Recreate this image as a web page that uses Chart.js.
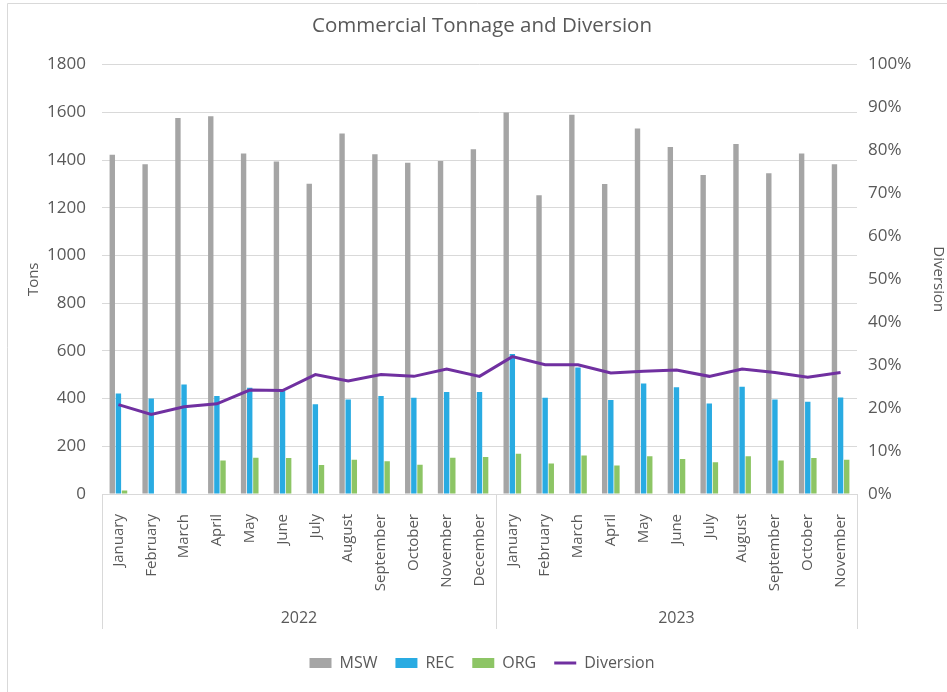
<!DOCTYPE html>
<html>
<head>
<meta charset="utf-8">
<script src="https://cdn.jsdelivr.net/npm/chart.js@4"></script>
<style>
  html, body { margin: 0; padding: 0; background: #fff; }
  #wrap { width: 947px; height: 692px; }
</style>
</head>
<body>
<div id="wrap"><canvas id="chart" width="947" height="692"></canvas></div>
<script>
const months = ['January', 'February', 'March', 'April', 'May', 'June', 'July', 'August',
  'September', 'October', 'November', 'December',
  'January', 'February', 'March', 'April', 'May', 'June', 'July', 'August',
  'September', 'October', 'November'];
const years = ['2022', '2023'];
const yearSizes = [12, 11];

const msw = [1422, 1382, 1576, 1583, 1427, 1394, 1301, 1511, 1424, 1389, 1396, 1445,
  1599, 1252, 1590, 1299, 1532, 1455, 1337, 1467, 1345, 1427, 1382];
const rec = [421, 400, 459, 411, 445, 433, 376, 396, 411, 403, 428, 428,
  587, 403, 530, 394, 463, 447, 379, 450, 396, 387, 404];
const org = [15, 0, 0, 140, 152, 151, 122, 144, 137, 123, 152, 155,
  169, 128, 161, 119, 158, 147, 133, 158, 140, 151, 144];
const diversion = [20.8, 18.5, 20.3, 21.0, 24.2, 24.1, 27.8, 26.3, 27.8, 27.4, 29.1, 27.4,
  32.0, 30.1, 30.1, 28.2, 28.6, 28.9, 27.4, 29.1, 28.3, 27.2, 28.3];

const FONT = "'Open Sans', sans-serif";
const TEXT = '#595959';
const GRID = '#D9D9D9';

// draws the year row of the two-level category axis
const yearGroups = {
  id: 'yearGroups',
  afterDraw(chart) {
    const x = chart.scales.x;
    const ctx = chart.ctx;
    const half = (x.getPixelForValue(1) - x.getPixelForValue(0)) / 2;
    const top = x.top;
    const bottom = x.top + 135;
    ctx.save();
    ctx.strokeStyle = GRID;
    ctx.lineWidth = 1;
    ctx.fillStyle = TEXT;
    ctx.font = '16px ' + FONT;
    ctx.textAlign = 'center';
    ctx.textBaseline = 'middle';
    let start = 0;
    const edges = [x.left];
    years.forEach((yr, i) => {
      const end = start + yearSizes[i] - 1;
      const l = x.getPixelForValue(start) - half;
      const r = x.getPixelForValue(end) + half;
      edges.push(r);
      ctx.fillText(yr, (l + r) / 2, top + 124);
      start = end + 1;
    });
    edges.forEach(e => {
      const px = Math.round(e) + 0.5;
      ctx.beginPath();
      ctx.moveTo(px, top);
      ctx.lineTo(px, bottom);
      ctx.stroke();
    });
    // chart frame
    ctx.beginPath();
    ctx.moveTo(7.5, 692);
    ctx.lineTo(7.5, 3.5);
    ctx.lineTo(947, 3.5);
    ctx.stroke();
    ctx.restore();
  }
};

new Chart(document.getElementById('chart'), {
  data: {
    labels: months,
    datasets: [
      { type: 'bar', label: 'MSW', data: msw, yAxisID: 'y', backgroundColor: '#A5A5A5', order: 1 },
      { type: 'bar', label: 'REC', data: rec, yAxisID: 'y', backgroundColor: '#29ABE2', order: 1 },
      { type: 'bar', label: 'ORG', data: org, yAxisID: 'y', backgroundColor: '#8DC565', order: 1 },
      { type: 'line', label: 'Diversion', data: diversion, yAxisID: 'y1',
        borderColor: '#7030A0', backgroundColor: '#7030A0', borderWidth: 3,
        pointRadius: 0, tension: 0, order: 0 }
    ]
  },
  options: {
    responsive: false,
    animation: false,
    layout: { padding: { left: 17, right: 0, top: 0, bottom: 11 } },
    datasets: {
      bar: { categoryPercentage: 0.56, barPercentage: 0.88, borderWidth: 0 }
    },
    plugins: {
      title: {
        display: true,
        text: 'Commercial Tonnage and Diversion',
        color: TEXT,
        font: { family: FONT, size: 20.5, weight: 'normal' },
        padding: { top: 14, bottom: 26 }
      },
      legend: {
        position: 'bottom',
        labels: {
          color: TEXT,
          font: { family: FONT, size: 16 },
          usePointStyle: true,
          pointStyleWidth: 22,
          boxHeight: 10,
          padding: 18,
          sort: (a, b) => a.datasetIndex - b.datasetIndex,
          generateLabels(chart) {
            const items = Chart.defaults.plugins.legend.labels.generateLabels(chart);
            items.forEach(it => {
              const ds = chart.data.datasets[it.datasetIndex];
              it.pointStyle = ds.type === 'line' ? 'line' : 'rect';
              if (ds.type !== 'line') it.lineWidth = 0;
            });
            return items;
          }
        }
      },
      tooltip: { enabled: false }
    },
    scales: {
      x: {
        grid: { display: false },
        border: { display: true, color: GRID },
        ticks: {
          color: TEXT, font: { family: FONT, size: 15 },
          autoSkip: false, maxRotation: 90, minRotation: 90, padding: 12
        },
        afterFit(scale) { scale.height = 143; }
      },
      y: {
        position: 'left',
        min: 0, max: 1800,
        grid: { color: GRID, drawTicks: false },
        border: { display: false },
        ticks: { stepSize: 200, color: TEXT, font: { family: FONT, size: 17 }, padding: 16,
          callback: v => String(v) },
        title: { display: true, text: 'Tons', color: TEXT, font: { family: FONT, size: 15 }, padding: { top: 8, bottom: 0 } },
        afterFit(scale) { scale.width = 85; }
      },
      y1: {
        position: 'right',
        min: 0, max: 100,
        grid: { drawOnChartArea: false, drawTicks: false },
        border: { display: false },
        ticks: { stepSize: 10, color: TEXT, font: { family: FONT, size: 17 }, padding: 11,
          callback: v => v + '%' },
        title: { display: true, text: 'Diversion', color: TEXT, font: { family: FONT, size: 15 }, padding: { top: 0, bottom: 0 } },
        afterFit(scale) { scale.width = 90; }
      }
    }
  },
  plugins: [yearGroups]
});
</script>
</body>
</html>
